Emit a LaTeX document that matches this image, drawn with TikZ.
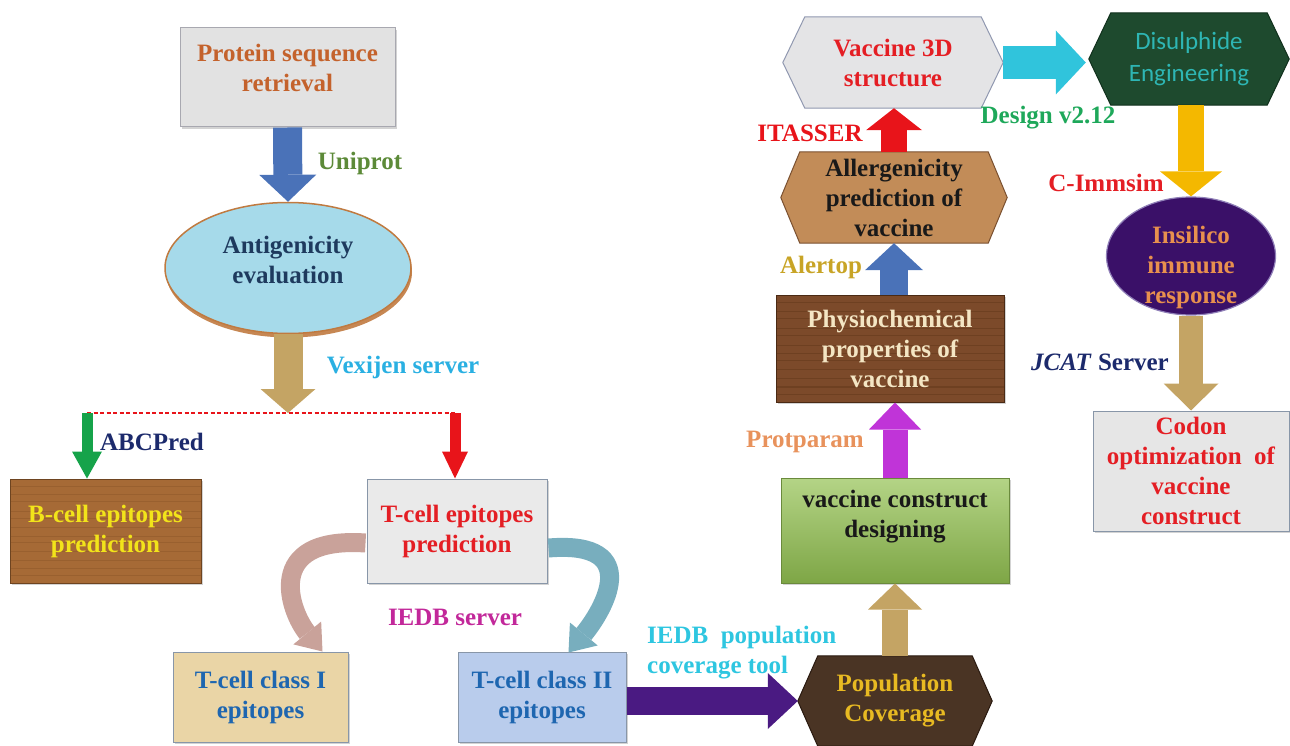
\documentclass[tikz,border=0pt]{standalone}
\usepackage{fontspec}
\setmainfont{Liberation Serif}
\newfontfamily\calibrifont{Carlito}
\usetikzlibrary{shapes.geometric,arrows.meta,calc,backgrounds,shadows}

\definecolor{marble}{HTML}{E2E2E2}\definecolor{marbleb}{HTML}{A8A8B0}
\definecolor{antfill}{HTML}{A6DAEA}\definecolor{antrim}{HTML}{C07A40}
\definecolor{bwood}{HTML}{A66A36}\definecolor{bwoodb}{HTML}{6E4420}\definecolor{bgrain}{HTML}{8A5428}
\definecolor{tgray}{HTML}{EAEAEA}\definecolor{boxb}{HTML}{8896A8}
\definecolor{cfill}{HTML}{EAD5A6}\definecolor{ctwofill}{HTML}{B9CCEC}
\definecolor{popfill}{HTML}{4A3424}\definecolor{popb}{HTML}{2A1A10}
\definecolor{vcdtop}{HTML}{B4D486}\definecolor{vcdbot}{HTML}{7EA646}\definecolor{vcdb}{HTML}{6A8A3C}
\definecolor{physfill}{HTML}{7C4A2A}\definecolor{physb}{HTML}{4A2A14}\definecolor{pgrain}{HTML}{5E3418}
\definecolor{allfill}{HTML}{C28C58}\definecolor{allb}{HTML}{7A5030}
\definecolor{vfill}{HTML}{E4E4E6}\definecolor{vb}{HTML}{9098B0}
\definecolor{disfill}{HTML}{1E4A2E}\definecolor{disb}{HTML}{10301C}
\definecolor{insfill}{HTML}{3A1068}\definecolor{insb}{HTML}{9080B8}
\definecolor{codfill}{HTML}{E6E6E6}

\definecolor{blueA}{HTML}{4A72B8}\definecolor{tanA}{HTML}{C4A464}
\definecolor{greenA}{HTML}{16A34A}\definecolor{redA}{HTML}{E8141A}
\definecolor{purpA}{HTML}{4A1A82}\definecolor{magA}{HTML}{C034D8}
\definecolor{cyanA}{HTML}{30C4DC}\definecolor{yelA}{HTML}{F4B800}
\definecolor{curvL}{HTML}{C9A29A}\definecolor{curvR}{HTML}{78AEBE}

\definecolor{protc}{HTML}{C4622C}\definecolor{uniprotc}{HTML}{5C8A38}
\definecolor{antc}{HTML}{1E3A5E}\definecolor{vexc}{HTML}{2AB0E2}
\definecolor{abcc}{HTML}{1C2A6C}\definecolor{bcellc}{HTML}{F2E41A}
\definecolor{tcellc}{HTML}{E41E24}\definecolor{iedbc}{HTML}{C2289A}
\definecolor{classc}{HTML}{1E66B0}\definecolor{iedbpopc}{HTML}{2EC6E0}
\definecolor{popc}{HTML}{E8BA22}\definecolor{protparamc}{HTML}{E8925C}
\definecolor{physc}{HTML}{F4E6C4}\definecolor{alertc}{HTML}{C8A426}
\definecolor{designc}{HTML}{1EA85A}\definecolor{disc}{HTML}{2EB6B4}
\definecolor{insc}{HTML}{E8904E}\definecolor{jcatc}{HTML}{1C2A6C}

\newcommand\hexshape[4]{%
  \filldraw[fill=#3,draw=#4,line width=1pt]
    (#1.west) -- ($(#1.north west)+(#2,0)$) -- ($(#1.north east)+(-#2,0)$)
    -- (#1.east) -- ($(#1.south east)+(-#2,0)$) -- ($(#1.south west)+(#2,0)$) -- cycle;}

\begin{document}
\begin{tikzpicture}[x=1pt,y=-1pt,
  txt/.style={font=\fontsize{25}{30}\selectfont\bfseries, inner sep=0pt, align=center},
  rbox/.style={rectangle, draw, line width=1pt, inner sep=0pt, align=center,
    font=\fontsize{25}{30}\selectfont\bfseries,
    drop shadow={shadow xshift=2pt,shadow yshift=-2pt,opacity=0.35}},
  grain/.style={path picture={
    \foreach \k in {0.07,0.15,0.22,0.31,0.38,0.47,0.55,0.61,0.70,0.78,0.86,0.93}
      \draw[#1, line width=1.1pt, opacity=0.45]
        ($(path picture bounding box.north west)!\k!(path picture bounding box.south west)$) --
        ($(path picture bounding box.north east)!\k!(path picture bounding box.south east)$);}},
  hexbox/.style={rectangle, inner sep=0pt, align=center, font=\fontsize{25}{30}\selectfont\bfseries},
  blk/.style n args={4}{draw=#1, line width=#2, -{Triangle[width=#3,length=#4,line width=0pt]}},
  curv/.style n args={2}{draw=#1, line width=19pt, -{Triangle[width=36pt,length=24pt,line width=0pt]}}
]
\useasboundingbox (0,0) rectangle (1290,746);

% ---------------- left column ----------------
\node[rbox, fill=marble, draw=marbleb, minimum width=215pt, minimum height=99pt] (prot) at (287.5,77.5) {};
\node[txt, text=protc] (prott) at ($(prot.center)+(0,-10)$) {Protein sequence\\retrieval};

\node[ellipse, fill=antfill, draw=antrim, line width=1.5pt, inner sep=0pt,
      minimum width=246pt, minimum height=131pt,
      drop shadow={shadow xshift=1pt,shadow yshift=-4pt,fill=antrim,opacity=0.9}] (antig) at (288,268) {};
\node[txt, text=antc] (antigt) at ($(antig.center)+(0,-8)$) {Antigenicity\\evaluation};

\coordinate (split) at (288,413);
\coordinate (lsplit) at (87,413);
\coordinate (rsplit) at (455,413);

\node[rbox, fill=bwood, draw=bwoodb, grain=bgrain, minimum width=191pt, minimum height=104pt, text=bcellc] (bcell) at (105.5,531) {B-cell epitopes\\prediction};
\node[rbox, fill=tgray, draw=boxb, minimum width=180pt, minimum height=104pt, text=tcellc] (tcell) at (457,531) {T-cell epitopes\\prediction};
\node[rbox, fill=cfill, draw=boxb, minimum width=175pt, minimum height=90pt, text=classc] (class1) at (260.5,697) {T-cell class I\\epitopes};
\node[rbox, fill=ctwofill, draw=boxb, minimum width=168pt, minimum height=90pt, text=classc] (class2) at (542,697) {T-cell class II\\epitopes};

% ---------------- middle column ----------------
\node[hexbox, minimum width=194pt, minimum height=90pt, text=popc] (popcov) at (895,701) {Population\\Coverage};
\node[rbox, top color=vcdtop, bottom color=vcdbot, draw=vcdb, minimum width=228pt, minimum height=105pt] (vcd) at (895,530.5) {};
\node[txt, text=black!90] (vcdt) at ($(vcd.center)+(0,-14)$) {vaccine construct\\designing};
\node[rbox, fill=physfill, draw=physb, grain=pgrain, minimum width=228pt, minimum height=107pt, text=physc] (phys) at (890,348.5) {Physiochemical\\properties of\\vaccine};
\node[hexbox, minimum width=226pt, minimum height=91pt, text=black!90] (allerg) at (894,197.5) {Allergenicity\\prediction of\\vaccine};
\node[hexbox, minimum width=220pt, minimum height=91pt, text=tcellc] (v3d) at (893,62.5) {Vaccine 3D\\structure};

% ---------------- right column ----------------
\node[hexbox, minimum width=200pt, minimum height=92pt, text=disc,
      font=\calibrifont\fontsize{25}{32}\selectfont] (disul) at (1189,59) {Disulphide\\Engineering};
\node[ellipse, fill=insfill, draw=insb, line width=1.2pt, inner sep=0pt,
      minimum width=169pt, minimum height=118pt] (insil) at (1191,256) {};
\node[txt, text=insc] (insilt) at ($(insil.center)+(0,11)$) {Insilico\\immune\\response};
\node[rbox, fill=codfill, draw=boxb, minimum width=196pt, minimum height=120pt, text=tcellc] (codon) at (1191,471) {Codon\\optimization\ \ of\\vaccine\\construct};

% hexagon outlines behind their texts
\begin{scope}[on background layer]
  \hexshape{popcov}{20}{popfill}{popb}
  \hexshape{allerg}{19}{allfill}{allb}
  \hexshape{v3d}{22}{vfill}{vb}
  \hexshape{disul}{22}{disfill}{disb}
\end{scope}

% ---------------- connectors ----------------
\draw[blk={blueA}{29pt}{57pt}{27pt}] (prot.south) -- (antig.north);
\draw[blk={tanA}{29pt}{55pt}{24pt}] (antig.south) -- (split);
\draw[redA, line width=1.3pt, dash pattern=on 4pt off 2.5pt] (lsplit) -- (rsplit);
\draw[blk={greenA}{11pt}{30pt}{27pt}] (lsplit) -- (lsplit |- bcell.north);
\draw[blk={redA}{11pt}{26pt}{27pt}] (rsplit) -- (rsplit |- tcell.north);

\draw[curv={curvL}{}] ($(tcell.west)+(-1,12)$) .. controls (262,536) and (290,612) .. ($(class1.north east)+(-26,0)$);
\draw[curv={curvR}{}] ($(tcell.east)+(1,17)$) .. controls (646,540) and (602,612) .. ($(class2.north west)+(111,1)$);

\draw[blk={purpA}{28pt}{56pt}{30pt}] (class2.east |- popcov.west) -- (popcov.west);
\draw[blk={tanA}{26pt}{54pt}{26pt}] (popcov.north) -- (vcd.south);
\draw[blk={magA}{25pt}{52pt}{27pt}] (vcd.north) -- (vcd.north |- phys.south);
\draw[blk={blueA}{28pt}{58pt}{27pt}] (allerg.south |- phys.north) -- (allerg.south);
\draw[blk={redA}{26pt}{56pt}{22pt}] (allerg.north) -- (allerg.north |- v3d.south);
\draw[blk={cyanA}{33pt}{64pt}{30pt}] (v3d.east) -- ($(v3d.east -| disul.west)+(-3,0)$);
\draw[blk={yelA}{26pt}{62pt}{25pt}] (disul.south -| insil.north) -- (insil.north);
\draw[blk={tanA}{24pt}{55pt}{27pt}] (insil.south) -- (codon.north);

% ---------------- labels ----------------
\node[txt, text=uniprotc] (luni) at (360,163) {Uniprot};
\node[txt, text=vexc] (lvex) at (403,367) {Vexijen server};
\node[txt, text=abcc] (labc) at (152,442) {ABCPred};
\node[txt, text=iedbc] (liedb) at (455,617) {IEDB server};
\node[txt, text=iedbpopc, align=left, anchor=west] (liedbpop) at (647,653) {IEDB\ \ population\\coverage tool};
\node[txt, text=protparamc] (lprot) at (805,442) {Protparam};
\node[txt, text=alertc] (lalert) at (821,267) {Alertop};
\node[txt, text=redA] (litas) at (810,133) {ITASSER};
\node[txt, text=designc] (ldesign) at (1048,118) {Design v2.12};
\node[txt, text=tcellc] (lcimm) at (1106,183) {C-Immsim};
\node[txt, text=jcatc] (ljcat) at (1100,362) {\textit{JCAT} Server};
\end{tikzpicture}
\end{document}
